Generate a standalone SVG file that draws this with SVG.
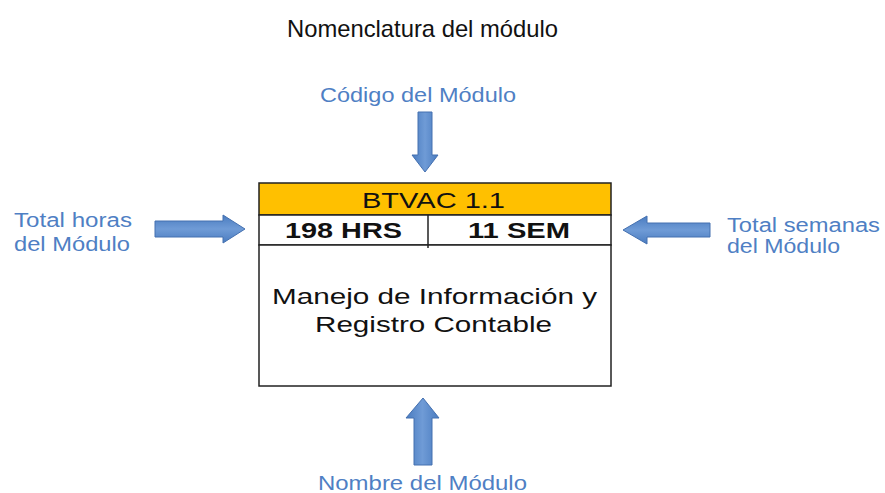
<svg xmlns="http://www.w3.org/2000/svg" width="885" height="493" viewBox="0 0 885 493">
<defs>
<linearGradient id="gv" x1="0" y1="0" x2="1" y2="0"><stop offset="0" stop-color="#4a7cc0"/><stop offset="0.5" stop-color="#6f9bd6"/><stop offset="1" stop-color="#4a7cc0"/></linearGradient>
<linearGradient id="gh" x1="0" y1="0" x2="0" y2="1"><stop offset="0" stop-color="#4a7cc0"/><stop offset="0.5" stop-color="#6f9bd6"/><stop offset="1" stop-color="#4a7cc0"/></linearGradient>
<style>
.lbl{font-family:"Liberation Sans",Arial,sans-serif;font-size:20px;fill:#4f7fc4}
.arr{stroke:#4470b0;stroke-width:1}
.box{font-family:"Liberation Sans",Arial,sans-serif;fill:#111}
</style>
</defs>
<rect width="885" height="493" fill="#fff"/>
<text x="287" y="37" style="font-family:'Liberation Sans Narrow','Liberation Sans',Arial,sans-serif;font-size:24px;fill:#111" textLength="271" lengthAdjust="spacingAndGlyphs">Nomenclatura del módulo</text>
<g id="module">
<rect x="259" y="183" width="352" height="32" fill="#ffc000" stroke="#222" stroke-width="1.5"/>
<rect x="259" y="215" width="352" height="30" fill="#fff" stroke="#222" stroke-width="1.5"/>
<rect x="259" y="245" width="352" height="141" fill="#fff" stroke="#222" stroke-width="1.5"/>
<line x1="428" y1="215" x2="428" y2="248" stroke="#222" stroke-width="1.5"/>
<text class="box" x="362" y="208" font-size="22" textLength="143" lengthAdjust="spacingAndGlyphs">BTVAC 1.1</text>
<text class="box" x="285" y="238" font-size="22" font-weight="bold" textLength="117" lengthAdjust="spacingAndGlyphs">198 HRS</text>
<text class="box" x="468" y="238" font-size="22" font-weight="bold" textLength="102" lengthAdjust="spacingAndGlyphs">11 SEM</text>
<text class="box" x="272" y="304" font-size="22" textLength="325" lengthAdjust="spacingAndGlyphs">Manejo de Información y</text>
<text class="box" x="315" y="332" font-size="22" textLength="237" lengthAdjust="spacingAndGlyphs">Registro Contable</text>
</g>
<g id="codigo"><text class="lbl" x="320" y="102" textLength="196" lengthAdjust="spacingAndGlyphs">Código del Módulo</text></g>
<g id="horas"><text class="lbl" x="14" y="227" textLength="118" lengthAdjust="spacingAndGlyphs">Total horas</text><text class="lbl" x="14" y="251" textLength="116" lengthAdjust="spacingAndGlyphs">del Módulo</text></g>
<g id="semanas"><text class="lbl" x="727" y="232" textLength="153" lengthAdjust="spacingAndGlyphs">Total semanas</text><text class="lbl" x="727" y="253" textLength="113" lengthAdjust="spacingAndGlyphs">del Módulo</text></g>
<g id="nombre"><text class="lbl" x="318" y="490" textLength="209" lengthAdjust="spacingAndGlyphs">Nombre del Módulo</text></g>
<g id="connectors">
<polygon class="arr" fill="url(#gv)" points="418,112 432,112 432,155 438,155 425,172 412,155 418,155"/>
<polygon class="arr" fill="url(#gh)" points="155,221 223,221 223,215 245,229 223,243 223,237 155,237"/>
<polygon class="arr" fill="url(#gh)" points="710,223 647,223 647,216 623,230 647,244 647,237 710,237"/>
<polygon class="arr" fill="url(#gv)" points="414,465 432,465 432,418 439,418 423,398 406,418 414,418"/>
</g>
</svg>
